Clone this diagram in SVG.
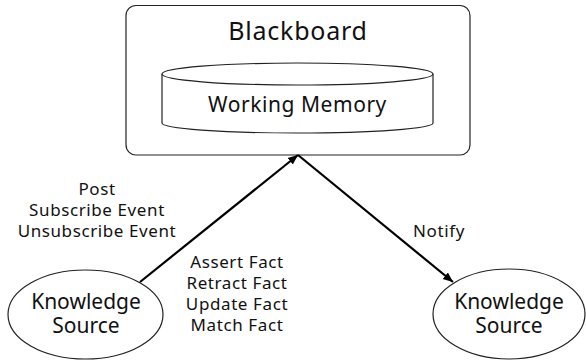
<svg xmlns="http://www.w3.org/2000/svg" width="586" height="360" viewBox="0 0 586 360">
  <defs>
    <marker id="arrow" viewBox="0 0 10 10" refX="10" refY="5" markerWidth="10" markerHeight="10" markerUnits="userSpaceOnUse" orient="auto">
      <path d="M0,0.8 L10,5 L0,9.2 Z" fill="#000"/>
    </marker>
  </defs>
  <style>
    text { font-family: "Noto Sans", "Open Sans", sans-serif; fill: #111; text-anchor: middle; }
    .shape { fill: #fff; stroke: #222; stroke-width: 1.2; }
    .conn { stroke: #000; stroke-width: 2.2; fill: none; marker-end: url(#arrow); }
    .lbl { font-size: 17px; letter-spacing: 0.6px; }
    .ks { font-size: 21px; }
  </style>
  <rect width="586" height="360" fill="#fff"/>

  <g id="blackboard">
    <rect class="shape" x="126" y="5.5" width="344" height="149.5" rx="10"/>
    <text x="298" y="40" font-size="25" letter-spacing="0.75">Blackboard</text>
  </g>

  <g id="working-memory">
    <path class="shape" d="M162,74 L162,123 A135.5,10 0 0 0 433,123 L433,74"/>
    <ellipse class="shape" cx="297.5" cy="74" rx="135.5" ry="11"/>
    <text x="297.5" y="112" font-size="21" letter-spacing="0.55">Working Memory</text>
  </g>

  <g id="knowledge-source-left">
    <ellipse class="shape" cx="85.5" cy="314.5" rx="77.5" ry="44.5"/>
    <text class="ks" x="86" y="309"><tspan x="86">Knowledge</tspan><tspan x="86" dy="24">Source</tspan></text>
  </g>

  <g id="knowledge-source-right">
    <ellipse class="shape" cx="509" cy="314" rx="76" ry="45"/>
    <text class="ks" x="509" y="309"><tspan x="509">Knowledge</tspan><tspan x="509" dy="24">Source</tspan></text>
  </g>

  <g id="connectors">
    <line class="conn" x1="140" y1="282" x2="298" y2="155"/>
    <line class="conn" x1="298" y1="155" x2="453" y2="282"/>
  </g>

  <g id="labels">
    <text class="lbl" x="97" y="195">Post</text>
    <text class="lbl" x="97" y="216">Subscribe Event</text>
    <text class="lbl" x="97" y="237">Unsubscribe Event</text>
    <text class="lbl" x="237" y="268">Assert Fact</text>
    <text class="lbl" x="237" y="289">Retract Fact</text>
    <text class="lbl" x="237" y="310">Update Fact</text>
    <text class="lbl" x="237" y="331">Match Fact</text>
    <text class="lbl" x="439" y="237">Notify</text>
  </g>
</svg>
